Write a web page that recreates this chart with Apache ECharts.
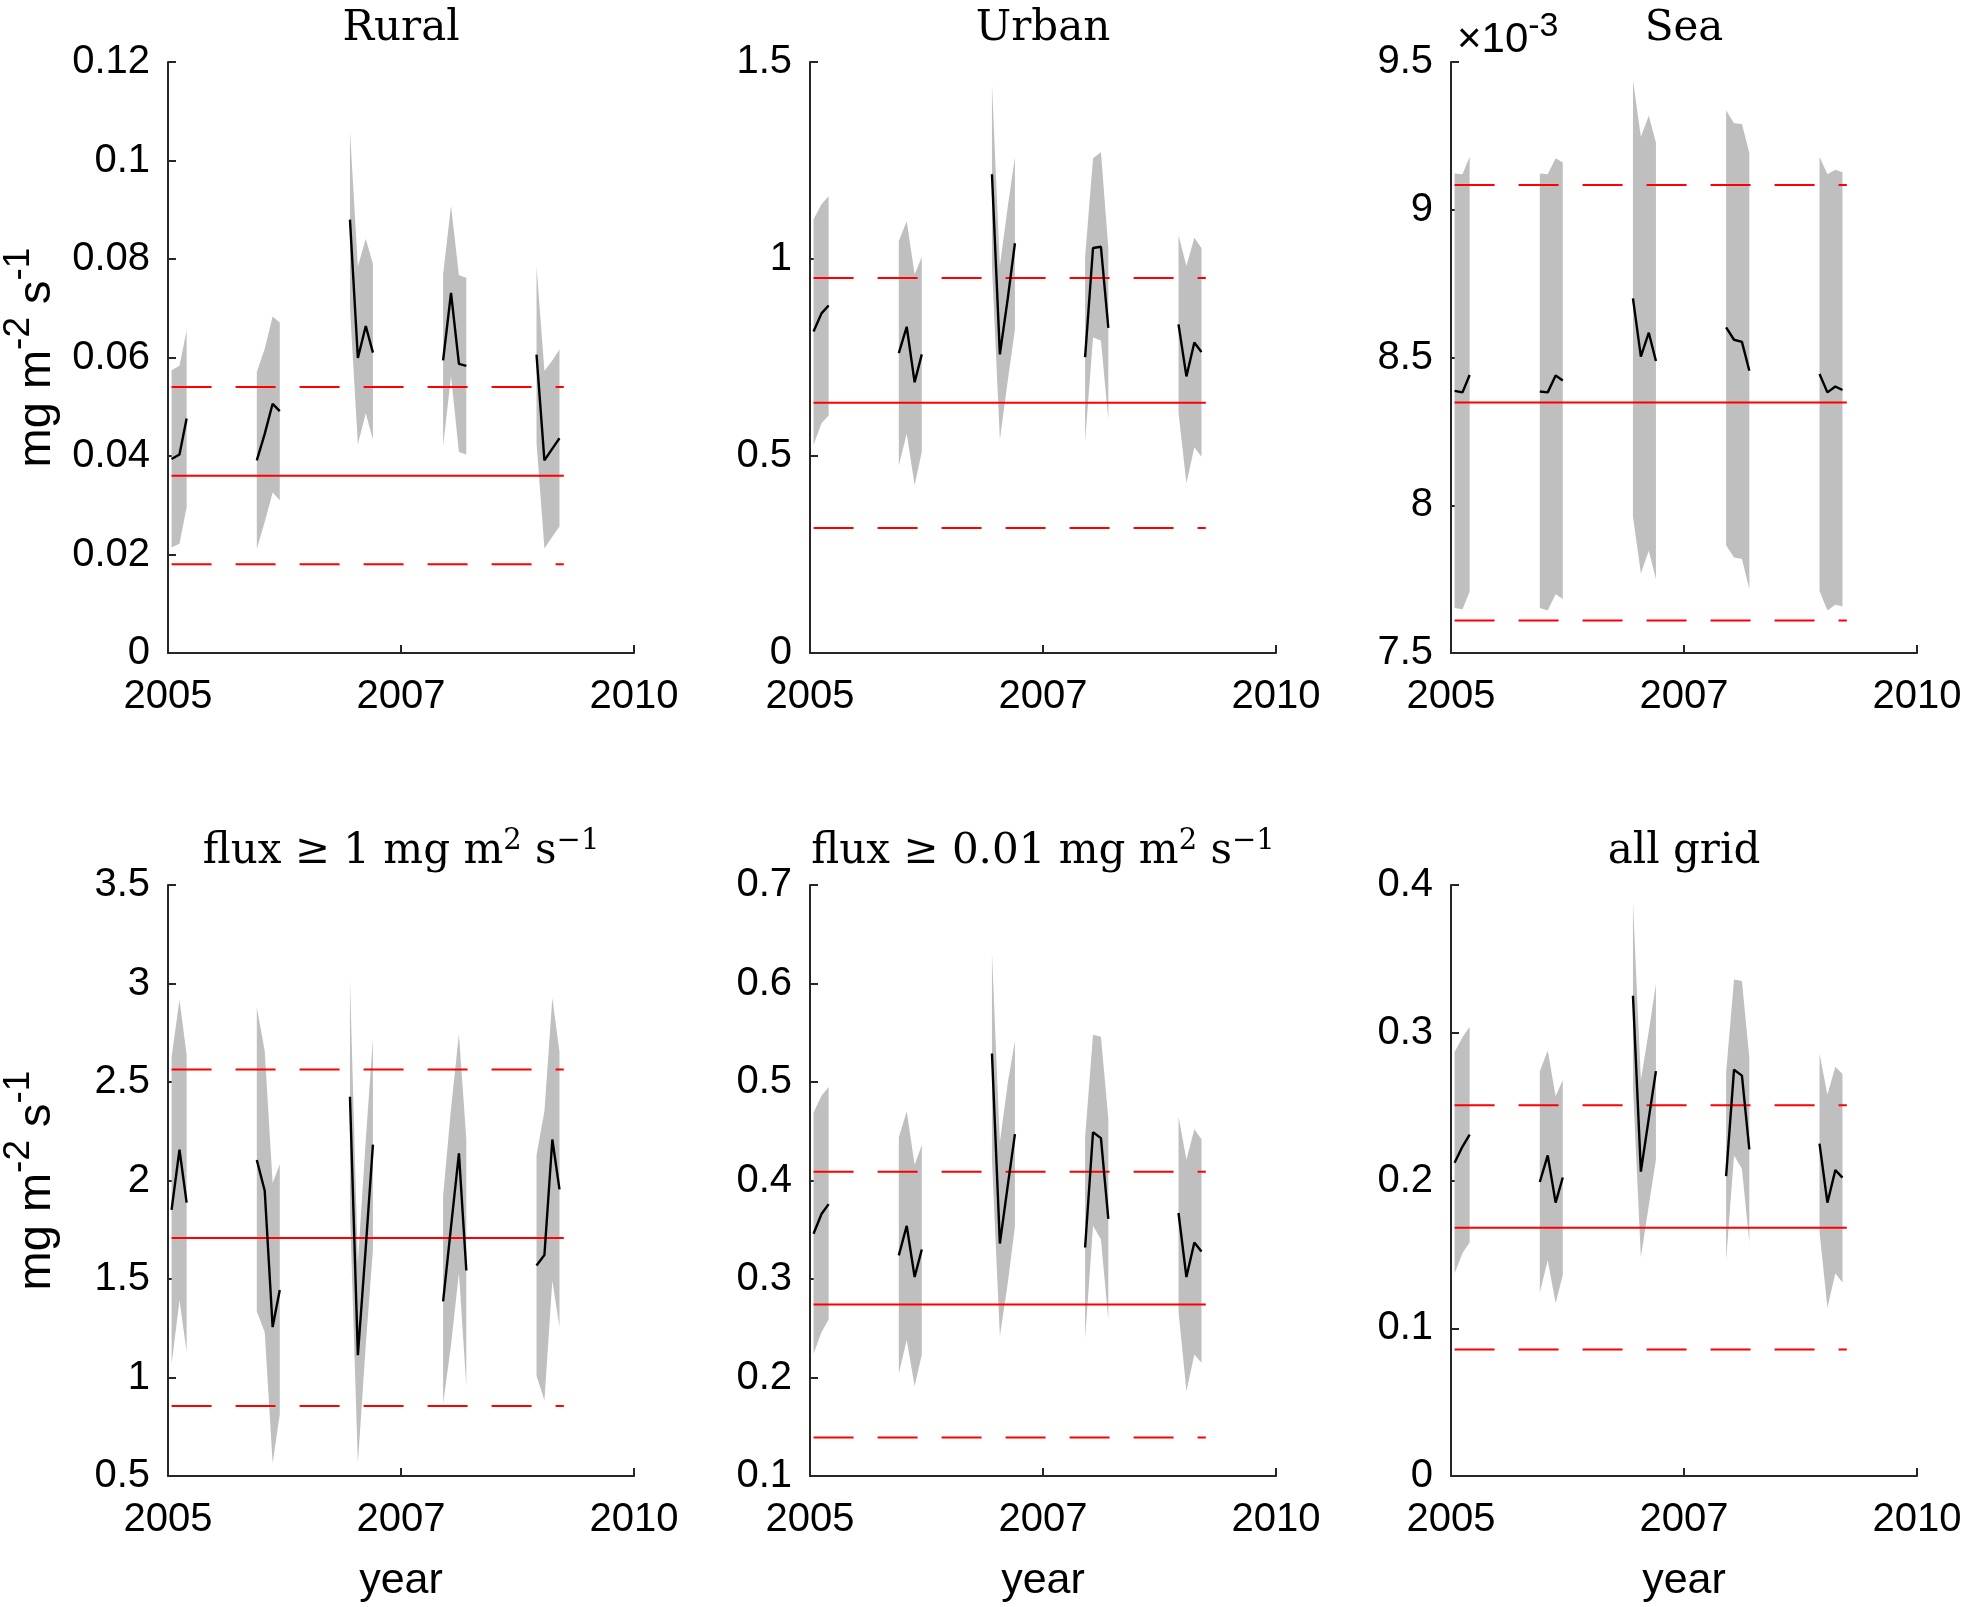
<!DOCTYPE html>
<html>
<head>
<meta charset="utf-8">
<script src="https://cdn.jsdelivr.net/npm/echarts@6/dist/echarts.min.js"></script>
<style>
  html, body { margin: 0; padding: 0; background: #fff; }
  #chart { width: 1961px; height: 1607px; }
</style>
</head>
<body>
<div id="chart"></div>
<script>
// winter months of each season (Dec-Mar), first season has no December
var groupDates = [
    ['2005-01-15', '2005-02-15', '2005-03-15'],
    ['2005-12-15', '2006-01-15', '2006-02-15', '2006-03-15'],
    ['2006-12-15', '2007-01-15', '2007-02-15', '2007-03-15'],
    ['2007-12-15', '2008-01-15', '2008-02-15', '2008-03-15'],
    ['2008-12-15', '2009-01-15', '2009-02-15', '2009-03-15']
];
var refStart = '2005-01-15';
var refEnd = '2009-04-01';
var xStart = '2005-01-01';
var xEnd = '2010-01-01';
var xTickLabels = ['2005', '2007', '2010'];

// Rural
var ruralMean = [
    [0.0394, 0.0403, 0.0476],
    [0.0391, 0.0445, 0.0506, 0.0491],
    [0.0880, 0.0599, 0.0664, 0.0610],
    [0.0594, 0.0731, 0.0587, 0.0583],
    [0.0606, 0.0391, 0.0415, 0.0436]
];
var ruralUpper = [
    [0.0574, 0.0583, 0.0655],
    [0.0571, 0.0618, 0.0683, 0.0671],
    [0.1060, 0.0785, 0.0841, 0.0790],
    [0.0769, 0.0908, 0.0767, 0.0762],
    [0.0785, 0.0573, 0.0594, 0.0616]
];
var ruralLower = [
    [0.0214, 0.0222, 0.0296],
    [0.0211, 0.0266, 0.0326, 0.0310],
    [0.0700, 0.0424, 0.0487, 0.0433],
    [0.0420, 0.0562, 0.0408, 0.0403],
    [0.0427, 0.0212, 0.0236, 0.0257]
];
var ruralRef = [0.018, 0.036, 0.054]; // low, mean, high

// Urban
var urbanMean = [
    [0.816, 0.862, 0.882],
    [0.761, 0.828, 0.687, 0.758],
    [1.215, 0.758, 0.900, 1.040],
    [0.751, 1.028, 1.031, 0.825],
    [0.834, 0.702, 0.788, 0.764]
];
var urbanUpper = [
    [1.101, 1.139, 1.159],
    [1.046, 1.096, 0.961, 1.005],
    [1.445, 0.982, 1.133, 1.258],
    [1.005, 1.256, 1.271, 1.028],
    [1.060, 0.982, 1.054, 1.028]
];
var urbanLower = [
    [0.528, 0.583, 0.603],
    [0.475, 0.557, 0.426, 0.510],
    [0.982, 0.542, 0.691, 0.821],
    [0.537, 0.801, 0.793, 0.592],
    [0.609, 0.431, 0.522, 0.498]
];
var urbanRef = [0.317, 0.635, 0.952];

// Sea, in units of 1e-3
var seaMean = [
    [8.387, 8.382, 8.441],
    [8.385, 8.382, 8.439, 8.422],
    [8.700, 8.503, 8.584, 8.488],
    [8.602, 8.560, 8.553, 8.455],
    [8.444, 8.382, 8.402, 8.390]
];
var seaUpper = [
    [9.123, 9.120, 9.179],
    [9.123, 9.120, 9.174, 9.160],
    [9.438, 9.247, 9.318, 9.228],
    [9.337, 9.293, 9.290, 9.193],
    [9.179, 9.120, 9.135, 9.127]
];
var seaLower = [
    [7.652, 7.648, 7.707],
    [7.652, 7.644, 7.699, 7.683],
    [7.963, 7.769, 7.846, 7.750],
    [7.865, 7.823, 7.818, 7.717],
    [7.710, 7.644, 7.663, 7.657]
];
var seaRef = [7.610, 8.348, 9.084];

// flux >= 1
var flux1Mean = [
    [1.851, 2.156, 1.888],
    [2.104, 1.948, 1.256, 1.444],
    [2.425, 1.113, 1.661, 2.182],
    [1.387, 1.765, 2.138, 1.543],
    [1.569, 1.622, 2.208, 1.955]
];
var flux1Upper = [
    [2.626, 2.918, 2.639],
    [2.879, 2.657, 1.987, 2.083],
    [3.017, 1.582, 2.208, 2.717],
    [1.921, 2.365, 2.743, 2.208],
    [2.130, 2.352, 2.926, 2.652]
];
var flux1Lower = [
    [1.066, 1.392, 1.131],
    [1.335, 1.230, 0.565, 0.813],
    [1.843, 0.565, 1.165, 1.648],
    [0.865, 1.165, 1.530, 0.956],
    [1.009, 0.883, 1.491, 1.256]
];
var flux1Ref = [0.855, 1.708, 2.563];

// flux >= 0.01
var flux01Mean = [
    [0.346, 0.366, 0.376],
    [0.324, 0.354, 0.302, 0.330],
    [0.529, 0.336, 0.395, 0.447],
    [0.332, 0.449, 0.443, 0.361],
    [0.367, 0.302, 0.337, 0.328]
];
var flux01Upper = [
    [0.469, 0.486, 0.495],
    [0.444, 0.470, 0.416, 0.436],
    [0.631, 0.439, 0.499, 0.542],
    [0.444, 0.548, 0.546, 0.463],
    [0.465, 0.421, 0.452, 0.442]
];
var flux01Lower = [
    [0.224, 0.246, 0.259],
    [0.204, 0.238, 0.191, 0.223],
    [0.421, 0.242, 0.296, 0.353],
    [0.239, 0.354, 0.340, 0.259],
    [0.267, 0.186, 0.223, 0.215]
];
var flux01Ref = [0.139, 0.274, 0.409];

// all grid
var gridMean = [
    [0.212, 0.223, 0.231],
    [0.199, 0.217, 0.185, 0.202],
    [0.325, 0.206, 0.242, 0.274],
    [0.203, 0.275, 0.271, 0.221],
    [0.225, 0.185, 0.207, 0.202]
];
var gridUpper = [
    [0.287, 0.297, 0.304],
    [0.274, 0.288, 0.257, 0.268],
    [0.388, 0.268, 0.301, 0.333],
    [0.273, 0.336, 0.335, 0.283],
    [0.286, 0.258, 0.277, 0.272]
];
var gridLower = [
    [0.137, 0.151, 0.158],
    [0.124, 0.146, 0.117, 0.136],
    [0.263, 0.148, 0.183, 0.214],
    [0.146, 0.217, 0.208, 0.158],
    [0.165, 0.114, 0.137, 0.131]
];
var gridRef = [0.0856, 0.168, 0.251];

var T0 = Date.parse(xStart + 'T00:00:00Z');
function day(s) {
    return (Date.parse(s + 'T00:00:00Z') - T0) / 86400000;
}
var xMax = day(xEnd);
var xStep = xMax / 2;

var sans = 'Liberation Sans';
var serif = 'DejaVu Serif';
var axisColor = '#262626';
var W = 466, H = 591;

var panels = [
    { title: 'Rural', mean: ruralMean, upper: ruralUpper, lower: ruralLower, ref: ruralRef,
      yMin: 0, yMax: 0.12, yStep: 0.02, left: 168, top: 62, ylabel: true },
    { title: 'Urban', mean: urbanMean, upper: urbanUpper, lower: urbanLower, ref: urbanRef,
      yMin: 0, yMax: 1.5, yStep: 0.5, left: 810, top: 62 },
    { title: 'Sea', mean: seaMean, upper: seaUpper, lower: seaLower, ref: seaRef,
      yMin: 7.5, yMax: 9.5, yStep: 0.5, left: 1451, top: 62 },
    { title: 'flux ≥ 1 mg m{sup|2} s{sup|−1}', mean: flux1Mean, upper: flux1Upper, lower: flux1Lower, ref: flux1Ref,
      yMin: 0.5, yMax: 3.5, yStep: 0.5, left: 168, top: 885, ylabel: true, xlabel: true },
    { title: 'flux ≥ 0.01 mg m{sup|2} s{sup|−1}', mean: flux01Mean, upper: flux01Upper, lower: flux01Lower, ref: flux01Ref,
      yMin: 0.1, yMax: 0.7, yStep: 0.1, left: 810, top: 885, xlabel: true },
    { title: 'all grid', mean: gridMean, upper: gridUpper, lower: gridLower, ref: gridRef,
      yMin: 0, yMax: 0.4, yStep: 0.1, left: 1451, top: 885, xlabel: true }
];

var grids = [], xAxes = [], yAxes = [], titles = [], series = [];

panels.forEach(function (p, k) {
    grids.push({ left: p.left, top: p.top, width: W, height: H, outerBoundsMode: 'none', containLabel: false });

    xAxes.push({
        type: 'value', gridIndex: k, min: 0, max: xMax, interval: xStep,
        axisLine: { onZero: false, lineStyle: { color: axisColor, width: 2 } },
        axisTick: { inside: true, length: 8, lineStyle: { color: axisColor, width: 2 } },
        splitLine: { show: false },
        axisLabel: {
            fontFamily: sans, fontSize: 40, color: '#000', margin: 24,
            showMinLabel: true, showMaxLabel: true, hideOverlap: false,
            formatter: function (v) { return xTickLabels[Math.round(v / xStep)]; }
        },
        name: p.xlabel ? 'year' : '', nameLocation: 'middle', nameGap: 84,
        nameTextStyle: { fontFamily: sans, fontSize: 43, color: '#000' }
    });

    var yAxis = {
        type: 'value', gridIndex: k, min: p.yMin, max: p.yMax, interval: p.yStep,
        axisLine: { show: true, onZero: false, lineStyle: { color: axisColor, width: 2 } },
        axisTick: { show: true, inside: true, length: 8, lineStyle: { color: axisColor, width: 2 } },
        splitLine: { show: false },
        axisLabel: {
            fontFamily: sans, fontSize: 40, color: '#000', margin: 18,
            showMinLabel: true, showMaxLabel: true,
            formatter: function (v) { return String(+v.toFixed(4)); }
        }
    };
    if (p.ylabel) {
        yAxis.name = 'mg m{sup|-2} s{sup|-1}';
        yAxis.nameLocation = 'middle';
        yAxis.nameRotate = 90;
        yAxis.nameGap = 93;
        yAxis.nameTextStyle = {
            fontFamily: sans, fontSize: 47, color: '#000',
            rich: { sup: { fontFamily: sans, fontSize: 37, color: '#000', padding: [0, 0, 38, 0] } }
        };
    }
    yAxes.push(yAxis);

    titles.push({
        text: p.title, left: p.left + W / 2, top: p.top - 33, padding: 0,
        textAlign: 'center', textVerticalAlign: 'middle',
        textStyle: {
            fontFamily: serif, fontSize: 42, fontWeight: 'normal', color: '#000',
            rich: { sup: { fontFamily: serif, fontSize: 29, color: '#000', padding: [0, 0, 22, 0] } }
        }
    });

    // grey spread band, one polygon per season
    series.push({
        type: 'custom', xAxisIndex: k, yAxisIndex: k, silent: true, z: 1,
        data: groupDates.map(function (d, g) { return [day(d[0]), p.lower[g][0], g]; }),
        renderItem: function (params, api) {
            var g = api.value(2);
            var xs = groupDates[g].map(day);
            var top = xs.map(function (x, i) { return api.coord([x, p.upper[g][i]]); });
            var bot = xs.map(function (x, i) { return api.coord([x, p.lower[g][i]]); }).reverse();
            return { type: 'polygon', shape: { points: top.concat(bot) }, style: { fill: '#bfbfbf' } };
        }
    });

    // reference levels
    p.ref.forEach(function (v, r) {
        series.push({
            type: 'line', xAxisIndex: k, yAxisIndex: k, silent: true, z: 2,
            symbol: 'none',
            data: [[day(refStart), v], [day(refEnd), v]],
            lineStyle: { color: '#ff0000', width: 2, type: r === 1 ? 'solid' : [40, 24] }
        });
    });

    // seasonal mean
    p.mean.forEach(function (vals, g) {
        series.push({
            type: 'line', xAxisIndex: k, yAxisIndex: k, silent: true, z: 3,
            symbol: 'none',
            data: vals.map(function (v, i) { return [day(groupDates[g][i]), v]; }),
            lineStyle: { color: '#000', width: 2.4 }
        });
    });
});

var myChart = echarts.init(document.getElementById('chart'));
myChart.setOption({
    animation: false,
    backgroundColor: '#fff',
    title: titles,
    grid: grids,
    xAxis: xAxes,
    yAxis: yAxes,
    series: series,
    // exponent label of the Sea axis
    graphic: [{
        type: 'text', left: 1457, top: 10, silent: true,
        style: {
            text: '×10{sup|-3}', fill: '#000', fontFamily: sans, fontSize: 42,
            rich: { sup: { fontFamily: sans, fontSize: 34, fill: '#000', padding: [0, 0, 26, 0] } }
        }
    }]
});
</script>
</body>
</html>
